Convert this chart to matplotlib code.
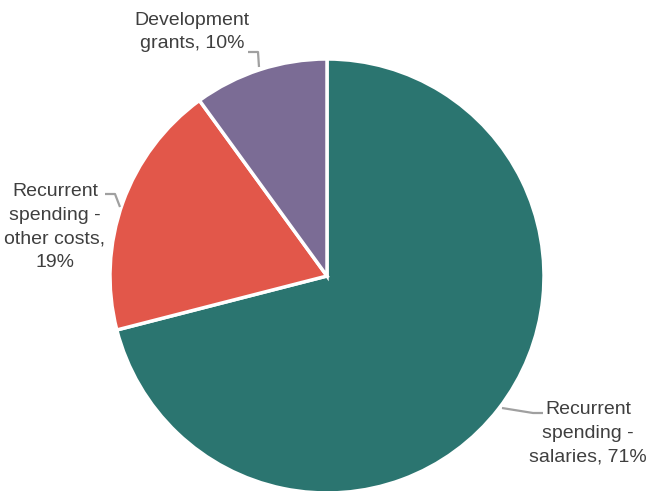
import matplotlib.pyplot as plt
from matplotlib import font_manager

labels = ["Recurrent\nspending -\nsalaries, 71%",
          "Recurrent\nspending -\nother costs,\n19%",
          "Development\ngrants, 10%"]
shares = [71, 19, 10]
colors = ["#2b7570", "#e2574a", "#7b6c95"]

W, H = 647, 491
names = {f.name for f in font_manager.fontManager.ttflist}
family = ["Liberation Sans Narrow"] if "Liberation Sans Narrow" in names else ["Liberation Sans"]

fig = plt.figure(figsize=(W / 100, H / 100), dpi=100)
ax = fig.add_axes([0, 0, 1, 1])

cx, cy, r = 327, H - 276, 217
ax.pie(shares, colors=colors, startangle=90, counterclock=False,
       center=(cx, cy), radius=r, frame=True,
       wedgeprops=dict(edgecolor="white", linewidth=2.5))
ax.set_xlim(0, W)
ax.set_ylim(0, H)
ax.set_aspect("equal")
ax.axis("off")

# leader lines (pixel coordinates, y measured from top)
leaders = [
    [(502, 408), (533, 413), (543, 413)],
    [(120, 207), (115, 194), (105, 194)],
    [(259, 67), (258, 52), (248, 52)],
]
for pts in leaders:
    xs = [p[0] for p in pts]
    ys = [H - p[1] for p in pts]
    ax.plot(xs, ys, color="#a0a0a0", lw=1.6, solid_capstyle="butt")

label_pos = [(588, 433), (55, 227), (192, 32)]
for text, (x, y) in zip(labels, label_pos):
    ax.text(x, H - y, text, ha="center", va="center", fontsize=14,
            color="#3f3f3f", family=family, linespacing=1.5)

fig.savefig("out.png", dpi=100)
